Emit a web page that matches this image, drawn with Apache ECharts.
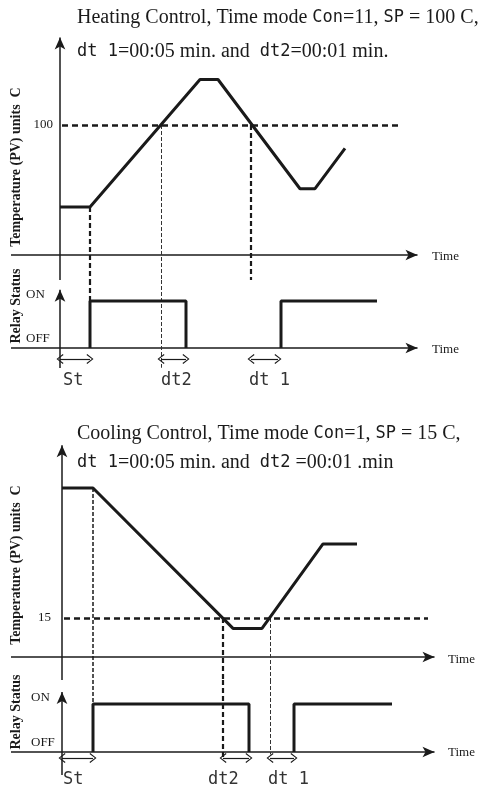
<!DOCTYPE html>
<html>
<head>
<meta charset="utf-8">
<script src="https://cdn.jsdelivr.net/npm/echarts@6/dist/echarts.min.js"></script>
<style>
html,body{margin:0;padding:0;background:#fff;}
#c{width:478px;height:786px;}
</style>
</head>
<body>
<div id="c"></div>
<script>
// ---------- Heating control (top) ----------
const heatCurveT = [0, 3, 14, 15.8, 24, 25.5, 28.5];
const heatCurveV = [37, 37, 135, 135, 51, 51, 82];
const heatSP = 100;
const heatRelayAT = [3, 3, 12.6, 12.6];
const heatRelayAS = [0, 1, 1, 0];
const heatRelayBT = [22.1, 22.1, 31.7];
const heatRelayBS = [0, 1, 1];
const heatEventT = [3, 10.1, 19.1];        // St end, SP crossings
const heatDelayFrom = [0, 10.1, 19.1];
const heatDelayTo = [3, 12.6, 21.8];
const heatDelayLabels = ['St', 'dt2', 'dt 1'];

// ---------- Cooling control (bottom) ----------
const coolCurveT = [0, 3.1, 17.1, 20, 26.1, 29.5];
const coolCurveV = [65, 65, 11, 11, 43.5, 43.5];
const coolSP = 15;
const coolRelayAT = [3.1, 3.1, 18.7, 18.7];
const coolRelayAS = [0, 1, 1, 0];
const coolRelayBT = [23.2, 23.2, 33];
const coolRelayBS = [0, 1, 1];
const coolEventT = [3.1, 16.1, 20.8];
const coolDelayFrom = [0, 16.1, 20.8];
const coolDelayTo = [3.1, 18.7, 23.2];
const coolDelayLabels = ['St', 'dt2', 'dt 1'];

const relayTicks = ['ON', 'OFF'];
const INK = '#1a1a1a';
const chevron = 'path://M0,9 L5,0 L10,9 L9,10 L5,2.3 L1,10 Z';

function zip(a, b) { return a.map((v, i) => [v, b[i]]); }
function curve(t, v, gi, w) {
  return { type: 'line', xAxisIndex: gi, yAxisIndex: gi, data: zip(t, v), symbol: 'none',
    silent: true, lineStyle: { color: INK, width: w }, z: 5 };
}
function ml(gi, segs, style, symbol, symbolSize) {
  return { type: 'line', xAxisIndex: gi, yAxisIndex: gi, data: [], silent: true,
    markLine: { silent: true, animation: false, symbol: symbol || 'none', symbolSize: symbolSize || 10,
      label: { show: false }, emphasis: { disabled: true }, lineStyle: style,
      data: segs.map(s => [{ coord: s[0] }, { coord: s[1] }]) } };
}

const grids = [
  { left: 11, top: 37, width: 407, height: 243 },
  { left: 11, top: 280, width: 407, height: 88 },
  { left: 11, top: 445, width: 424, height: 235 },
  { left: 11, top: 680, width: 424, height: 95 }
];
const xr = [[-4.9, 35.8], [-4.9, 35.8], [-5.1, 37.3], [-5.1, 37.3]];
const yr = [[-19.2, 167.7], [-0.4255, 1.4468], [-8.846, 81.54], [-0.479, 1.5]];

const axisStyle = { color: INK, width: 1.5, type: 'solid' };
const arrowSym = ['none', 'arrow'];
const arrowSize = [8, 12];
const dashThick = { color: INK, width: 2.2, type: [5, 3] };
const dashThin = { color: '#333', width: 1, type: [4, 2] };
const spStyle = { color: INK, width: 2.6, type: [6, 4] };
const dblStyle = { color: INK, width: 1.2, type: 'solid' };

const series = [
  // top temperature
  curve(heatCurveT, heatCurveV, 0, 3),
  ml(0, [[[0, -19.2], [0, 167.3]], [[-4.9, 0], [35.75, 0]]], axisStyle, arrowSym, arrowSize),
  ml(0, [[[0.2, heatSP], [33.8, heatSP]]], spStyle),
  ml(0, [[[heatEventT[0], heatCurveV[1]], [heatEventT[0], -19.2]], [[heatEventT[2], heatSP], [heatEventT[2], -19.2]]], dashThick),
  ml(0, [[[heatEventT[1], heatSP], [heatEventT[1], -19.2]]], dashThin),
  // top relay
  curve(heatRelayAT, heatRelayAS, 1, 3),
  curve(heatRelayBT, heatRelayBS, 1, 3),
  ml(1, [[[0, -0.4255], [0, 1.24]], [[-4.9, 0], [35.75, 0]]], axisStyle, arrowSym, arrowSize),
  ml(1, [[[heatEventT[0], 1.4468], [heatEventT[0], 1]], [[heatEventT[2], 1.4468], [heatEventT[2], -0.45]]], dashThick),
  ml(1, [[[heatEventT[1], 1.4468], [heatEventT[1], -0.42]]], dashThin),
  ml(1, heatDelayFrom.map((f, i) => [[f, -0.234], [heatDelayTo[i], -0.234]]), dblStyle, [chevron, chevron], [10, 7]),
  // bottom temperature
  curve(coolCurveT, coolCurveV, 2, 3),
  ml(2, [[[0, -8.846], [0, 81.4]], [[-5.1, 0], [37.25, 0]]], axisStyle, arrowSym, arrowSize),
  ml(2, [[[0.2, coolSP], [36.6, coolSP]]], spStyle),
  ml(2, [[[coolEventT[1], coolSP], [coolEventT[1], -8.846]]], dashThick),
  ml(2, [[[coolEventT[0], coolCurveV[1]], [coolEventT[0], -8.846]]], { color: INK, width: 1.5, type: [4, 2] }),
  ml(2, [[[coolEventT[2], coolSP], [coolEventT[2], -8.846]]], dashThin),
  // bottom relay
  curve(coolRelayAT, coolRelayAS, 3, 3),
  curve(coolRelayBT, coolRelayBS, 3, 3),
  ml(3, [[[0, -0.479], [0, 1.25]], [[-5.1, 0], [37.25, 0]]], axisStyle, arrowSym, arrowSize),
  ml(3, [[[coolEventT[1], 1.5], [coolEventT[1], -0.12]]], dashThick),
  ml(3, [[[coolEventT[0], 1.5], [coolEventT[0], 1]]], { color: INK, width: 1.5, type: [4, 2] }),
  ml(3, [[[coolEventT[2], 1.5], [coolEventT[2], -0.05]]], dashThin),
  ml(3, coolDelayFrom.map((f, i) => [[f, -0.125], [coolDelayTo[i], -0.125]]), dblStyle, [chevron, chevron], [10, 7])
];

const serif = 'Liberation Serif, Times New Roman, serif';
const seg = 'DejaVu Sans Mono, monospace';
function txt(x, y, text, o) {
  return { type: 'text', x: x, y: y, silent: true, rotation: (o && o.rot) || 0,
    style: Object.assign({ text: text, fill: INK, font: '13px ' + serif, textAlign: 'left', textVerticalAlign: 'middle' }, (o && o.style) || {}) };
}
const rich = { s: { fontFamily: serif, fontSize: 20, color: INK }, d: { fontFamily: seg, fontSize: 17, color: '#333' } };
function title(x, y, text) {
  return { type: 'text', x: x, y: y, silent: true, style: { text: text, rich: rich, textVerticalAlign: 'middle', fill: INK } };
}
const segStyle = { font: '17px ' + seg, fill: '#333', textVerticalAlign: 'top' };
const vlabel = { font: 'bold 14px ' + serif, textAlign: 'center' };

const graphics = [
  title(77, 18, '{s|Heating Control, Time mode }{d|Con}{s|=11, }{d|SP}{s| = 100 C,}'),
  title(77, 52, '{d|dt 1}{s|=00:05 min. and  }{d|dt2}{s|=00:01 min.}'),
  title(77, 434, '{s|Cooling Control, Time mode }{d|Con}{s|=1, }{d|SP}{s| = 15 C,}'),
  title(77, 463, '{d|dt 1}{s|=00:05 min. and  }{d|dt2}{s| =00:01 .min}'),
  txt(16, 167, 'Temperature (PV) units  C', { rot: Math.PI / 2, style: vlabel }),
  txt(16, 306, 'Relay Status', { rot: Math.PI / 2, style: vlabel }),
  txt(16, 565, 'Temperature (PV) units  C', { rot: Math.PI / 2, style: vlabel }),
  txt(16, 712, 'Relay Status', { rot: Math.PI / 2, style: vlabel }),
  txt(53, 125, String(heatSP), { style: { textAlign: 'right' } }),
  txt(51, 618, String(coolSP), { style: { textAlign: 'right' } }),
  txt(26, 295, relayTicks[0]), txt(26, 339, relayTicks[1]),
  txt(31, 698, relayTicks[0]), txt(31, 743, relayTicks[1]),
  txt(432, 257, 'Time'), txt(432, 350, 'Time'),
  txt(448, 660, 'Time'), txt(448, 753, 'Time'),
  txt(63, 372, heatDelayLabels[0], { style: segStyle }),
  txt(161, 372, heatDelayLabels[1], { style: segStyle }),
  txt(249, 372, heatDelayLabels[2], { style: segStyle }),
  txt(63, 771, coolDelayLabels[0], { style: segStyle }),
  txt(208, 771, coolDelayLabels[1], { style: segStyle }),
  txt(268, 771, coolDelayLabels[2], { style: segStyle })
];

const chart = echarts.init(document.getElementById('c'), null, { renderer: 'canvas' });
chart.setOption({
  animation: false,
  backgroundColor: '#fff',
  grid: grids,
  xAxis: xr.map((r, i) => ({ type: 'value', gridIndex: i, min: r[0], max: r[1], show: false })),
  yAxis: yr.map((r, i) => ({ type: 'value', gridIndex: i, min: r[0], max: r[1], show: false })),
  series: series,
  graphic: graphics
});
</script>
</body>
</html>
